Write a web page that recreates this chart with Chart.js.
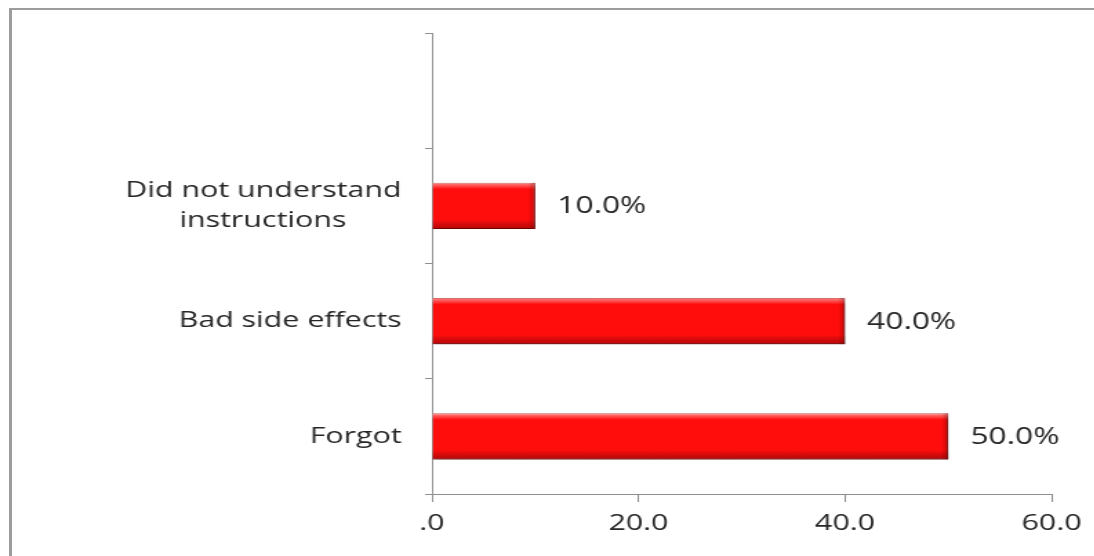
<!DOCTYPE html>
<html>
<head>
<meta charset="utf-8">
<title>Reasons for missed doses</title>
<script src="https://cdn.jsdelivr.net/npm/chart.js@4.4.1/dist/chart.umd.min.js"></script>
<style>
  html, body { margin: 0; padding: 0; background: #fff; overflow: hidden; }
  body { width: 1094px; height: 556px; position: relative; }
  .frame {
    position: absolute; left: 9px; top: 8px; right: -20px; bottom: -20px;
    border-left: 3px solid #9c9c9c; border-top: 2px solid #9c9c9c;
  }
  /* the chart is drawn narrow and stretched sideways */
  .wrap {
    position: absolute; left: 0; top: 0; width: 793px; height: 556px;
    transform: scaleX(1.38); transform-origin: 0 0;
  }
</style>
</head>
<body>
<div class="frame"></div>
<div class="wrap"><canvas id="myChart"></canvas></div>
<script>
const categories = ['', 'Did not understand instructions', 'Bad side effects', 'Forgot'];
const values = [null, 10, 40, 50];
const tickLabels = ['.0', '20.0', '40.0', '60.0'];

const ctx = document.getElementById('myChart');
const textColor = '#262626';
const axisColor = '#8f8f8f';
const font = { family: '"Open Sans"', size: 22, lineHeight: 1.38 };

const measure = document.createElement('canvas').getContext('2d');
measure.font = '22px "Open Sans"';

// wrap long labels, then pad the short lines so they sit centred under the long one
function wrapLabel(text) {
  const lines = [];
  let line = '';
  text.split(' ').forEach((word) => {
    const next = line ? line + ' ' + word : word;
    if (next.length > 18 && line) {
      lines.push(line);
      line = word;
    } else {
      line = next;
    }
  });
  lines.push(line);
  if (lines.length === 1) return text;
  const widest = Math.max(...lines.map((l) => measure.measureText(l).width));
  const space = measure.measureText('\u00a0').width;
  return lines.map((l) => l + '\u00a0'.repeat(Math.round((widest - measure.measureText(l).width) / 2 / space)));
}

// soft drop shadow plus a bevel on each bar
const barBevel = {
  id: 'barBevel',
  beforeDatasetDraw(chart) {
    const c = chart.ctx;
    c.save();
    c.shadowColor = 'rgba(0,0,0,0.4)';
    c.shadowBlur = 5;
    c.shadowOffsetX = 1.5;
    c.shadowOffsetY = 3;
  },
  afterDatasetDraw(chart, args) {
    const c = chart.ctx;
    c.restore();
    args.meta.data.forEach((bar, i) => {
      if (values[i] == null) return;
      const { x, y, base, height } = bar.getProps(['x', 'y', 'base', 'height'], true);
      const top = y - height / 2;
      const g = c.createLinearGradient(0, top, 0, top + height);
      g.addColorStop(0, 'rgba(255,255,255,0.5)');
      g.addColorStop(0.14, 'rgba(255,255,255,0)');
      g.addColorStop(0.8, 'rgba(0,0,0,0)');
      g.addColorStop(1, 'rgba(80,0,0,0.4)');
      c.fillStyle = g;
      c.fillRect(base, top, x - base, height);
      const r = c.createLinearGradient(x - 5, 0, x, 0);
      r.addColorStop(0, 'rgba(80,0,0,0)');
      r.addColorStop(1, 'rgba(80,0,0,0.35)');
      c.fillStyle = r;
      c.fillRect(x - 5, top, 5, height);
    });
  }
};

const valueLabels = {
  id: 'valueLabels',
  afterDatasetsDraw(chart) {
    const c = chart.ctx;
    c.save();
    c.font = '23px "Open Sans"';
    c.fillStyle = textColor;
    c.textBaseline = 'middle';
    chart.getDatasetMeta(0).data.forEach((bar, i) => {
      if (values[i] == null) return;
      const { x, y } = bar.getProps(['x', 'y'], true);
      c.fillText(values[i].toFixed(1) + '%', x + 16, y + 1);
    });
    c.restore();
  }
};

new Chart(ctx, {
  type: 'bar',
  data: {
    labels: categories.map(wrapLabel),
    datasets: [
      {
        data: values,
        backgroundColor: '#ff0d0d',
        borderColor: '#b80000',
        borderWidth: 1,
        barPercentage: 0.8,
        categoryPercentage: 0.5,
      },
    ],
  },
  plugins: [barBevel, valueLabels],
  options: {
    indexAxis: 'y',
    responsive: true,
    maintainAspectRatio: false,
    animation: false,
    layout: { padding: { top: 33, right: 31, bottom: 0, left: 0 } },
    plugins: {
      legend: { display: false },
      tooltip: { enabled: false },
    },
    scales: {
      x: {
        min: 0,
        max: 60,
        ticks: {
          stepSize: 20,
          callback: (v, i) => tickLabels[i],
          color: textColor,
          font: font,
          padding: 7,
        },
        grid: { drawOnChartArea: false, tickLength: 8, color: axisColor },
        border: { color: axisColor, width: 1 },
        afterFit: (axis) => { axis.height = 62; },
      },
      y: {
        ticks: { color: textColor, font: font, padding: 17 },
        grid: { drawOnChartArea: false, tickLength: 5, color: axisColor },
        border: { color: axisColor, width: 1 },
        afterFit: (axis) => { axis.width = 313; },
      },
    },
  },
});
</script>
</body>
</html>
